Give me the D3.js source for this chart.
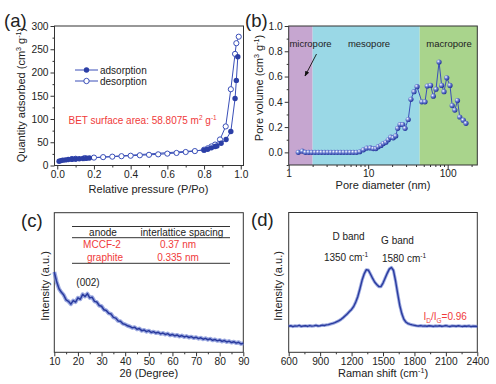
<!DOCTYPE html>
<html><head><meta charset="utf-8">
<script src="https://cdn.jsdelivr.net/npm/d3@7"></script>
<style>body{margin:0;background:#fff} text{font-family:"Liberation Sans",Arial,sans-serif;fill:#222}</style>
</head><body><svg id="c" width="496" height="384"></svg>
<script>
// ---------- data ----------
// (a) N2 isotherm
const adsP = [0.01,0.02,0.03,0.045,0.06,0.08,0.10,0.12,0.14,0.16,0.175,0.80,0.82,0.84,0.86,0.87,0.893,0.92,0.946,0.969,0.976,0.984];
const adsQ = [9,10.5,11.5,12,13,13.5,14,14.5,15,15.5,16,33,35,38,41,42,48,56,73,144,183,234];
const desP = [0.989,0.976,0.969,0.946,0.918,0.887,0.86,0.84,0.82,0.80,0.75,0.70,0.65,0.60,0.55,0.50,0.45,0.40,0.35,0.30,0.25,0.20,0.15,0.10,0.08];
const desQ = [277,263,240,164,84,56,45,41,37,34,31,29,27,25.5,24,23,22,21,20,19,18,17,16,14.5,14];
const aXTicks = [0,0.2,0.4,0.6,0.8,1.0];
const aYTicks = [0,50,100,150,200,250,300];
// (b) pore size distribution
const poreD = [1.32,1.48,1.62,1.78,1.95,2.14,2.35,2.58,2.83,3.10,3.40,3.73,4.09,4.49,4.92,5.40,5.92,6.50,7.13,7.82,8.7,9.6,10.6,11.6,12.5,13.4,14.5,15.5,16.7,17.9,19.2,20.7,22.2,23.5,25.2,27.2,29.1,31.9,34.5,37.7,41.2,47.3,51.9,55.4,61,66,71.4,77.9,84,90,97.4,107,114,123,133,142,157,170];
const poreV = [0,0.01,0,0,0,0,0,0,0,0,0,0,0,0,0,0,0,0,0,0.005,0.02,0.034,0.035,0.03,0.03,0.045,0.055,0.07,0.08,0.10,0.12,0.115,0.13,0.19,0.22,0.22,0.19,0.26,0.42,0.48,0.52,0.40,0.40,0.525,0.53,0.445,0.50,0.715,0.53,0.48,0.59,0.53,0.37,0.335,0.41,0.28,0.255,0.23];
const bXTicks = [1,10,100];
const bYTicks = [0,0.2,0.4,0.6,0.8,1.0];
const regions = [{name:"micropore",from:1,to:2,color:"#c6a6d0"},{name:"mesopore",from:2,to:44.5,color:"#9ad8e6"},{name:"macropore",from:44.5,to:236,color:"#a9d48c"}];
// (c) XRD
const xrdTheta = d3.range(10,91,1);
const xrdI = [0.575,0.505,0.455,0.43,0.41,0.375,0.365,0.345,0.37,0.36,0.39,0.38,0.415,0.40,0.42,0.39,0.395,0.365,0.36,0.335,0.33,0.305,0.30,0.28,0.275,0.25,0.245,0.225,0.222,0.205,0.20,0.19,0.185,0.175,0.18,0.165,0.17,0.155,0.16,0.148,0.155,0.142,0.148,0.138,0.143,0.132,0.138,0.128,0.134,0.122,0.128,0.118,0.124,0.113,0.12,0.11,0.116,0.106,0.112,0.102,0.108,0.098,0.104,0.094,0.1,0.09,0.097,0.086,0.092,0.082,0.088,0.078,0.084,0.074,0.08,0.07,0.076,0.066,0.072,0.06,0.065];
const cXTicks = [10,20,30,40,50,60,70,80,90];
const tableRows = [["MCCF-2","0.37 nm"],["graphite","0.335 nm"]];
// (d) Raman
const ramanShift = d3.range(600,2401,20);
const ramanI = [0.186,0.190,0.184,0.189,0.187,0.192,0.185,0.188,0.190,0.186,0.191,0.187,0.189,0.193,0.188,0.190,0.194,0.192,0.196,
 0.198,0.203,0.207,0.212,0.219,0.226,0.236,0.248,0.262,0.276,0.292,0.307,0.328,0.360,0.400,0.455,0.515,0.560,0.590,0.588,0.560,0.530,0.503,0.485,0.470,0.470,0.495,0.530,0.565,0.595,0.607,0.585,0.510,0.420,0.335,0.275,0.235,0.215,0.205,0.200,0.196,0.193,
 0.190,0.188,0.191,0.187,0.189,0.186,0.190,0.188,0.185,0.189,0.187,0.190,0.186,0.188,0.191,0.187,0.185,0.189,0.188,0.186,0.190,0.187,0.185,0.188,0.186,0.189,0.184,0.187,0.186,0.185];
const dXTicks = [600,900,1200,1500,1800,2100,2400];

// ---------- drawing ----------
const svg = d3.select("#c");
const BLUE = "#2c3fa6", LINE = "#3a4fb8";
const defs = svg.append("defs");
const grad = defs.append("radialGradient").attr("id","ball").attr("cx","35%").attr("cy","35%").attr("r","65%");
grad.append("stop").attr("offset","0%").attr("stop-color","#ffffff");
grad.append("stop").attr("offset","45%").attr("stop-color","#7084d6");
grad.append("stop").attr("offset","100%").attr("stop-color","#23349a");
defs.append("marker").attr("id","arr").attr("viewBox","0 0 10 10").attr("refX",9).attr("refY",5)
  .attr("markerWidth",6).attr("markerHeight",6).attr("orient","auto")
  .append("path").attr("d","M0,1 L10,5 L0,9 z").attr("fill","#111");

function axes(x, y, L, R, T, B, xt, xmin, xfmt, yt, ymin, yfmt){
  const gx = svg.append("g").attr("transform",`translate(0,${B})`);
  gx.call(d3.axisBottom(x).tickValues(xt).tickSize(4).tickPadding(1).tickFormat(xfmt));
  gx.append("g").call(d3.axisBottom(x).tickValues(xmin).tickSize(2).tickFormat(""));
  gx.selectAll(".domain").remove();
  gx.selectAll("text").attr("font-size",10.2).attr("fill","#222").attr("font-family","Liberation Sans, Arial, sans-serif");
  gx.selectAll("line").attr("stroke","#333");
  if (yt){
    const gy = svg.append("g").attr("transform",`translate(${L},0)`);
    gy.call(d3.axisLeft(y).tickValues(yt).tickSize(4).tickPadding(2).tickFormat(yfmt));
    gy.append("g").call(d3.axisLeft(y).tickValues(ymin).tickSize(2).tickFormat(""));
    gy.selectAll(".domain").remove();
    gy.selectAll("text").attr("font-size",10.2).attr("fill","#222").attr("font-family","Liberation Sans, Arial, sans-serif");
    gy.selectAll("line").attr("stroke","#333");
  }
  svg.append("rect").attr("x",L).attr("y",T).attr("width",R-L).attr("height",B-T)
    .attr("fill","none").attr("stroke","#333").attr("stroke-width",1);
}
function ylabel(cx, cy, parts){
  const t = svg.append("text").attr("transform",`translate(${cx},${cy}) rotate(-90)`)
    .attr("text-anchor","middle").attr("dy","0.35em").attr("font-size",11);
  addParts(t, parts);
}
function addParts(t, parts){
  parts.forEach(p=>{
    if (typeof p === "string") t.append("tspan").text(p);
    else if (p.sup) { t.append("tspan").attr("dy",-4).attr("font-size","0.65em").text(p.sup); t.append("tspan").attr("dy",4).text(p.after||""); }
    else if (p.sub) { t.append("tspan").attr("dy",3).attr("font-size","0.65em").text(p.sub); t.append("tspan").attr("dy",-3).text(p.after||""); }
  });
}
function label(x,y,txt){ svg.append("text").attr("x",x).attr("y",y).attr("font-size",18.5).text(txt); }

// ===== (a) =====
{
  const L=54.5,R=243.5,T=26,B=165.5;
  const x = d3.scaleLinear().domain([-0.015,1.015]).range([L,R]);
  const y = d3.scaleLinear().domain([0,300]).range([B,T]);
  axes(x,y,L,R,T,B,aXTicks,[0.1,0.3,0.5,0.7,0.9],d3.format(".1f"),aYTicks,[25,75,125,175,225,275],d3.format("d"));
  const line = d3.line().x(d=>x(d[0])).y(d=>y(d[1]));
  const ads = adsP.map((p,i)=>[p,adsQ[i]]), des = desP.map((p,i)=>[p,desQ[i]]);
  svg.append("path").attr("d",line(des)).attr("fill","none").attr("stroke",LINE).attr("stroke-width",1);
  svg.append("path").attr("d",line(ads)).attr("fill","none").attr("stroke",LINE).attr("stroke-width",1);
  svg.selectAll(".des").data(des).join("circle").attr("cx",d=>x(d[0])).attr("cy",d=>y(d[1])).attr("r",2.6)
    .attr("fill","#fff").attr("stroke",LINE).attr("stroke-width",1);
  svg.selectAll(".ads").data(ads).join("circle").attr("cx",d=>x(d[0])).attr("cy",d=>y(d[1])).attr("r",2.7)
    .attr("fill",BLUE);
  // legend
  [["adsorption",70,true],["desorption",81,false]].forEach(([t,yy,f])=>{
    svg.append("line").attr("x1",75).attr("x2",98).attr("y1",yy).attr("y2",yy).attr("stroke",LINE);
    svg.append("circle").attr("cx",86.5).attr("cy",yy).attr("r",2.7).attr("fill",f?BLUE:"#fff").attr("stroke",LINE).attr("stroke-width",f?0:1);
    svg.append("text").attr("x",100).attr("y",yy).attr("dy","0.35em").attr("font-size",10).text(t);
  });
  const bt = svg.append("text").attr("x",68.5).attr("y",123.5).attr("font-size",10).style("fill","#f03a3a");
  bt.append("tspan").text("BET surface area: 58.8075 m");
  bt.append("tspan").attr("dy",-4).attr("font-size",6.5).text("2");
  bt.append("tspan").attr("dy",4).text(" g");
  bt.append("tspan").attr("dy",-4).attr("font-size",6.5).text("-1");
  svg.append("text").attr("x",148.5).attr("y",189).attr("dy","0.35em").attr("text-anchor","middle").attr("font-size",11).text("Relative pressure (P/Po)");
  ylabel(21,95,["Quantity adsorbed (cm",{sup:"3",after:" g"},{sup:"-1",after:")"}]);
  label(4,27,"(a)");
}

// ===== (b) =====
{
  const L=288.7,R=477.3,T=26,B=165;
  const x = d3.scaleLog().domain([1,236]).range([L,R]);
  const y = d3.scaleLinear().domain([-0.1,1.0]).range([B,T]);
  regions.forEach(r=>{
    svg.append("rect").attr("x",x(r.from)).attr("y",T).attr("width",x(r.to)-x(r.from)).attr("height",B-T).attr("fill",r.color);
  });
  const minors = [2,3,4,5,6,7,8,9,20,30,40,50,60,70,80,90,200];
  axes(x,y,L,R,T,B,bXTicks,minors,d3.format("d"),bYTicks,[-0.1,0.1,0.3,0.5,0.7,0.9],d3.format(".1f"));
  [["micropore",310.5],["mesopore",369],["macropore",449]].forEach(([t,cx])=>{
    svg.append("text").attr("x",cx).attr("y",44).attr("dy","0.35em").attr("text-anchor","middle").attr("font-size",9.5).text(t);
  });
  svg.append("line").attr("x1",316.5).attr("y1",54).attr("x2",305).attr("y2",76).attr("stroke","#111").attr("stroke-width",0.9).attr("marker-end","url(#arr)");
  const pts = poreD.map((d,i)=>[d,poreV[i]]);
  svg.append("path").attr("d",d3.line().x(d=>x(d[0])).y(d=>y(d[1]))(pts)).attr("fill","none").attr("stroke",LINE).attr("stroke-width",1);
  svg.selectAll(".pb").data(pts).join("circle").attr("cx",d=>x(d[0])).attr("cy",d=>y(d[1])).attr("r",2.6).attr("fill","url(#ball)");
  svg.append("text").attr("x",383).attr("y",185).attr("dy","0.35em").attr("text-anchor","middle").attr("font-size",11).text("Pore diameter (nm)");
  ylabel(259.5,88,["Pore volume (cm",{sup:"3",after:" g"},{sup:"-1",after:")"}]);
  label(245,27,"(b)");
}

// ===== (c) =====
{
  const L=54.3,R=243.3,T=212.7,B=352.3;
  const x = d3.scaleLinear().domain([10,90]).range([L,R]);
  const y = d3.scaleLinear().domain([0,1]).range([B,T]);
  axes(x,y,L,R,T,B,cXTicks,[15,25,35,45,55,65,75,85],d3.format("d"),null);
  const pts = xrdTheta.map((t,i)=>[t,xrdI[i]]);
  const ln = d3.line().x(d=>x(d[0])).y(d=>y(d[1]));
  svg.append("path").attr("d",ln(pts)).attr("fill","none").attr("stroke","#7b8cd6").attr("stroke-width",4).attr("opacity",0.75).attr("stroke-linejoin","round");
  svg.append("path").attr("d",ln(pts)).attr("fill","none").attr("stroke","#2a3b9e").attr("stroke-width",1.5).attr("stroke-linejoin","round");
  // table
  [226.5,237.7,263.3].forEach(yy=>svg.append("line").attr("x1",72).attr("x2",230).attr("y1",yy).attr("y2",yy).attr("stroke","#333").attr("stroke-width",1));
  svg.append("text").attr("x",103).attr("y",232.5).attr("dy","0.35em").attr("text-anchor","middle").attr("font-size",10).text("anode");
  svg.append("text").attr("x",182).attr("y",232.5).attr("dy","0.35em").attr("text-anchor","middle").attr("font-size",10).text("interlattice spacing");
  tableRows.forEach((r,i)=>{
    const yy = 244.3 + i*13.3;
    svg.append("text").attr("x",102+i*3).attr("y",yy).attr("dy","0.35em").attr("text-anchor","middle").attr("font-size",10).style("fill","#f03a3a").text(r[0]);
    svg.append("text").attr("x",178).attr("y",yy).attr("dy","0.35em").attr("text-anchor","middle").attr("font-size",10).style("fill","#f03a3a").text(r[1]);
  });
  svg.append("text").attr("x",88).attr("y",282.5).attr("dy","0.35em").attr("text-anchor","middle").attr("font-size",10).text("(002)");
  svg.append("text").attr("x",148.8).attr("y",373).attr("dy","0.35em").attr("text-anchor","middle").attr("font-size",11).text("2θ (Degree)");
  ylabel(45,286,["Intensity (a.u.)"]);
  label(21,227,"(c)");
}

// ===== (d) =====
{
  const L=288.7,R=477.3,T=212.5,B=352.3;
  const x = d3.scaleLinear().domain([600,2400]).range([L,R]);
  const y = d3.scaleLinear().domain([0,1]).range([B,T]);
  axes(x,y,L,R,T,B,dXTicks,[750,1050,1350,1650,1950,2250],d3.format("d"),null);
  const pts = ramanShift.map((s,i)=>[s,ramanI[i]]);
  const ln = d3.line().x(d=>x(d[0])).y(d=>y(d[1]));
  svg.append("path").attr("d",ln(pts)).attr("fill","none").attr("stroke","#7b8cd6").attr("stroke-width",3.2).attr("opacity",0.75).attr("stroke-linejoin","round");
  svg.append("path").attr("d",ln(pts)).attr("fill","none").attr("stroke","#2a3b9e").attr("stroke-width",1.4).attr("stroke-linejoin","round");
  svg.append("text").attr("x",348.5).attr("y",236.5).attr("dy","0.35em").attr("text-anchor","middle").attr("font-size",10).text("D band");
  svg.append("text").attr("x",397.5).attr("y",240).attr("dy","0.35em").attr("text-anchor","middle").attr("font-size",10).text("G band");
  const t1 = svg.append("text").attr("x",346).attr("y",257).attr("dy","0.35em").attr("text-anchor","middle").attr("font-size",10);
  addParts(t1,["1350 cm",{sup:"-1"}]);
  const t2 = svg.append("text").attr("x",404).attr("y",258.5).attr("dy","0.35em").attr("text-anchor","middle").attr("font-size",10);
  addParts(t2,["1580 cm",{sup:"-1"}]);
  const t3 = svg.append("text").attr("x",423.5).attr("y",316.5).attr("dy","0.35em").attr("font-size",10).style("fill","#f03a3a");
  t3.append("tspan").text("I"); t3.append("tspan").attr("dy",3).attr("font-size",6.5).text("D");
  t3.append("tspan").attr("dy",-3).text("/I"); t3.append("tspan").attr("dy",3).attr("font-size",6.5).text("G");
  t3.append("tspan").attr("dy",-3).text("=0.96");
  const xt = svg.append("text").attr("x",383).attr("y",373).attr("dy","0.35em").attr("text-anchor","middle").attr("font-size",11);
  addParts(xt,["Raman shift (cm",{sup:"-1",after:")"}]);
  ylabel(278,286,["Intensity (a.u.)"]);
  label(251,226,"(d)");
}
</script></body></html>
